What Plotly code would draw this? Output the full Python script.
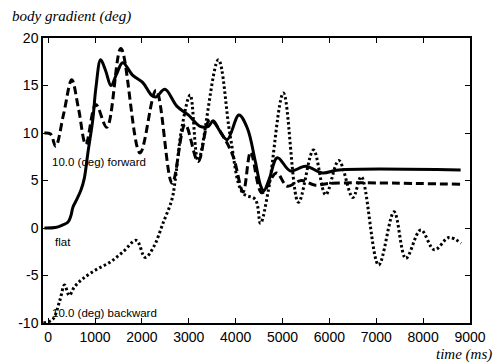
import plotly.graph_objects as go

# ---- data (time in ms, body gradient in deg) ----
flat_t = [-80, 150, 300, 420, 480, 530, 600, 700, 770, 850, 950, 1020, 1120, 1230, 1340,
          1460, 1590, 1800, 2020, 2200, 2300, 2490, 2750, 2990, 3240, 3420, 3520, 3650,
          3820, 4070, 4250, 4420, 4530, 4600, 4720, 4890, 5170, 5490, 5850, 6200, 8800]
flat_y = [0.0, 0.05, 0.3, 0.6, 1.2, 2.2, 2.9, 4.0, 5.2, 8.0, 11.3, 14.8, 17.7, 16.5, 15.0,
          16.2, 17.4, 16.1, 15.3, 14.0, 13.8, 14.6, 12.8, 11.9, 10.7, 10.7, 11.3, 10.3,
          9.3, 11.9, 10.5, 7.0, 4.5, 3.9, 5.2, 7.4, 6.0, 6.5, 5.8, 6.1, 6.1]

fwd_t = [-80, 50, 160, 330, 503, 650, 803, 1017, 1252, 1552, 1959, 2302, 2645, 2923,
         3200, 3450, 3750, 3950, 4160, 4320, 4560, 4870, 5100, 5400, 5700, 6000, 8800]
fwd_y = [10.0, 9.9, 8.6, 12.0, 15.6, 12.5, 8.8, 13.0, 10.6, 18.9, 7.9, 14.5, 4.7, 10.9,
         7.0, 11.4, 9.5, 7.5, 3.8, 8.0, 3.7, 5.8, 4.4, 5.0, 4.5, 4.7, 4.6]

bwd_t = [-100, 100, 250, 350, 450, 560, 750, 1020, 1320, 1600, 1880, 2070, 2250, 2450,
         2640, 2710, 2850, 3030, 3200, 3630, 3890, 4150, 4420, 4530, 4700, 5020, 5340,
         5660, 5920, 6200, 6500, 6680, 7050, 7380, 7630, 7950, 8240, 8550, 8810]
bwd_y = [-10.0, -9.6, -7.6, -6.0, -7.1, -6.2, -5.3, -4.4, -3.6, -2.5, -1.3, -3.1, -2.0, 0.5,
         3.0, 5.0, 10.5, 14.0, 7.1, 17.7, 9.5, 3.7, 3.0, 0.5, 4.0, 14.2, 2.7,
         8.2, 3.5, 7.1, 3.2, 5.4, -3.9, 1.7, -3.2, -0.2, -2.3, -1.0, -1.6]

x_ticks = [0, 1000, 2000, 3000, 4000, 5000, 6000, 7000, 8000, 9000]
x_labels = ["0", "1000", "2000", "3000", "4000", "5000", "6000", "7000", "8000", "9000"]
y_ticks = [-10, -5, 0, 5, 10, 15, 20]
y_labels = ["-10", "-5", "0", "5", "10", "15", "20"]

fig = go.Figure()
fig.add_trace(go.Scatter(x=bwd_t, y=bwd_y, mode="lines",
                         line=dict(color="black", width=3, dash="2.5px,2.5px", shape="spline", smoothing=1.0)))
fig.add_trace(go.Scatter(x=fwd_t, y=fwd_y, mode="lines",
                         line=dict(color="black", width=3, dash="8px,4px", shape="spline", smoothing=1.0)))
fig.add_trace(go.Scatter(x=flat_t, y=flat_y, mode="lines",
                         line=dict(color="black", width=3, shape="spline", smoothing=1.0)))

lab_font = dict(family="Liberation Sans, Arial", size=11.5, color="black")
fig.add_annotation(x=30, y=6.9, text="10.0 (deg) forward", showarrow=False,
                   xanchor="left", yanchor="middle", font=lab_font)
fig.add_annotation(x=96, y=-1.5, text="flat", showarrow=False,
                   xanchor="left", yanchor="middle", font=lab_font)
fig.add_annotation(x=30, y=-8.9, text="10.0 (deg) backward", showarrow=False,
                   xanchor="left", yanchor="middle", font=lab_font)

title_font = dict(family="Liberation Serif, Times New Roman, serif", size=15, color="black")
fig.add_annotation(xref="paper", yref="paper", x=-0.078, y=1.074,
                   text="<i>body gradient (deg)</i>", showarrow=False,
                   xanchor="left", yanchor="middle", font=title_font)
fig.add_annotation(xref="paper", yref="paper", x=1.056, y=-0.112,
                   text="<i>time (ms)</i>", showarrow=False,
                   xanchor="right", yanchor="middle", font=title_font)

tick_font = dict(family="Liberation Sans, Arial", size=14, color="black")
fig.update_xaxes(range=[-110, 9000], tickvals=x_ticks, ticktext=x_labels,
                 ticks="inside", ticklen=5, tickcolor="black", tickwidth=1,
                 showline=True, linecolor="black", linewidth=1.5, mirror="ticks",
                 showgrid=False, zeroline=False, tickfont=tick_font, ticklabelstandoff=0,
                 automargin=False)
fig.update_yaxes(range=[-10, 20], tickvals=y_ticks, ticktext=y_labels,
                 ticks="inside", ticklen=5, tickcolor="black", tickwidth=1,
                 showline=True, linecolor="black", linewidth=1.5, mirror="ticks",
                 showgrid=False, zeroline=False, tickfont=tick_font, ticklabelstandoff=0,
                 automargin=False)

# page body has a default 8px margin, so the figure is sized to fit inside it
fig.update_layout(width=493, height=356, showlegend=False,
                  margin=dict(l=35, r=31, t=30, b=41),
                  paper_bgcolor="white", plot_bgcolor="white")

fig.write_html("out.html")
